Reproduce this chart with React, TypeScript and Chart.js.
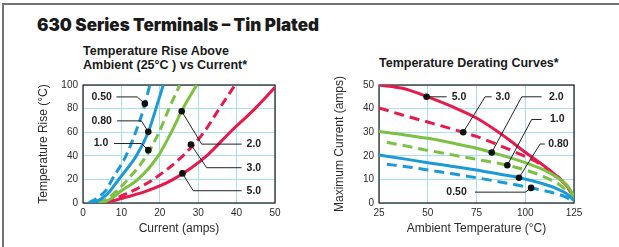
import React, { useEffect, useRef } from 'react';
import { Chart, registerables } from 'chart.js';

Chart.register(...registerables);

const FONT = '"Liberation Sans", Arial, Helvetica, sans-serif';
const BLUE = '#1b9ad8';
const GREEN = '#7cc242';
const RED = '#e8194b';
const GRID = '#a9def4';
const TEXT = '#2b2b2b';

// ---------- Left chart: Temperature rise vs current ----------
const riseXRange = [0, 50];
const riseYRange = [0, 100];
const riseXStep = 10;
const riseYStep = 20;
const rise050: [number, number][] = [[1.5, 0], [4, 5], [5.8, 10], [7.6, 20], [11.2, 40], [13.7, 60], [15.8, 80], [17.4, 100]];
const rise080: [number, number][] = [[2.5, 0], [5, 4], [7, 10], [9.3, 20], [13.9, 40], [17, 60], [19, 80], [20.9, 100]];
const rise100: [number, number][] = [[4, 0], [6.5, 4], [8.7, 10], [11.7, 20], [16.5, 40], [19.8, 60], [22.4, 80], [25.2, 100]];
const rise200: [number, number][] = [[5, 0], [7.5, 4], [9.8, 10], [14.3, 20], [19.6, 40], [23, 60], [26, 80], [29.6, 100]];
const rise300: [number, number][] = [[6, 0], [10, 6], [14, 12], [18.3, 20], [26, 40], [31.5, 60], [35.5, 80], [39.6, 100]];
const rise500: [number, number][] = [[5, 0], [8, 2], [11.3, 5], [16.5, 10], [23.5, 20], [32.2, 40], [38.3, 60], [44.8, 80], [50, 98]];

// callouts: label, path from dot (data coords), text anchor, alignment
const riseCallouts = [
  { label: '0.50', path: [[16.1, 84.2], [14.1, 89.9], [8.7, 89.9]], text: [2.2, 89.9], align: 'left' },
  { label: '0.80', path: [[17, 60.3], [15.2, 69.6], [8.9, 69.6]], text: [2.2, 69.6], align: 'left' },
  { label: '1.0', path: [[17, 44.8], [15.2, 50.4], [8.1, 50.4]], text: [2.8, 50.4], align: 'left' },
  { label: '2.0', path: [[25.7, 77.7], [30.9, 49.9], [41.3, 49.9]], text: [42.6, 49.9], align: 'left' },
  { label: '3.0', path: [[28.1, 49.6], [32.2, 29.9], [41.3, 29.9]], text: [42.6, 29.9], align: 'left' },
  { label: '5.0', path: [[25.9, 25.1], [28.7, 10.4], [41.3, 10.4]], text: [42.6, 10.4], align: 'left' },
];

// ---------- Right chart: Temperature derating ----------
const derateXRange = [25, 125];
const derateYRange = [0, 50];
const derateXStep = 25;
const derateYStep = 10;
const derate500: [number, number][] = [[25, 50], [37, 48.6], [50, 45], [62, 41], [75, 36], [88, 29], [100, 21.5], [110, 15.5], [118, 10], [122, 6.5], [125, 2.5]];
const derate300: [number, number][] = [[25, 40.3], [37, 37.3], [50, 34.3], [62, 31.5], [68, 30], [75, 28.2], [83, 25.7], [95, 21.5], [105, 17.8], [113, 13.5], [120, 8.5], [125, 2.5]];
const derate200: [number, number][] = [[25, 30.3], [37, 29], [50, 27.4], [62, 25.5], [75, 23.2], [83, 21.4], [100, 17.1], [110, 13.8], [117, 10.5], [121, 7.9], [125, 3]];
const derate100: [number, number][] = [[29, 25.7], [40, 24], [50, 22.3], [62, 20.5], [75, 18.5], [90.8, 16], [100, 14], [110, 11], [118, 7.5], [125, 2]];
const derate080: [number, number][] = [[25, 20.3], [37, 18.8], [50, 17.1], [62, 15.6], [75, 14], [87, 12.2], [97, 10.7], [108, 8.4], [115, 6.5], [121, 4], [125, 1]];
const derate050: [number, number][] = [[29, 16.4], [40, 15.3], [50, 14], [62, 12.5], [75, 10.7], [90, 8.5], [103, 6.4], [112, 4.8], [120, 2.8], [125, 0.5]];

const derateCallouts = [
  { label: '5.0', path: [[49.4, 45], [59.7, 45]], text: [62.3, 45], align: 'left' },
  { label: '3.0', path: [[68.2, 30], [79.4, 45], [82.8, 45]], text: [84.8, 45], align: 'left' },
  { label: '2.0', path: [[82.8, 21.4], [98.2, 45], [108.4, 45]], text: [112.2, 45], align: 'left' },
  { label: '1.0', path: [[90.8, 16], [103.3, 35.4], [108.4, 35.4]], text: [112.7, 35.4], align: 'left' },
  { label: '0.80', path: [[96.8, 10.7], [107.6, 25], [110.1, 25]], text: [111.8, 25], align: 'left' },
  { label: '0.50', path: [[103, 6.4], [100, 4.6], [74.2, 4.6]], text: [70, 4.6], align: 'right' },
];

const framePlugin = {
  id: 'frame',
  beforeDatasetsDraw(chart: any) {
    const { ctx, chartArea: a } = chart;
    ctx.save();
    ctx.strokeStyle = '#1a1a1a';
    ctx.lineWidth = 1.2;
    ctx.strokeRect(a.left, a.top, a.right - a.left, a.bottom - a.top);
    ctx.restore();
  },
};

const calloutPlugin = {
  id: 'callouts',
  afterDatasetsDraw(chart: any, _args: any, opts: any) {
    const { ctx } = chart;
    const xs = chart.scales.x;
    const ys = chart.scales.y;
    ctx.save();
    for (const c of opts.items || []) {
      const pts = c.path.map((p: number[]) => [xs.getPixelForValue(p[0]), ys.getPixelForValue(p[1])]);
      ctx.strokeStyle = '#222';
      ctx.lineWidth = 1;
      ctx.beginPath();
      ctx.moveTo(pts[0][0], pts[0][1]);
      for (let i = 1; i < pts.length; i++) ctx.lineTo(pts[i][0], pts[i][1]);
      ctx.stroke();
      ctx.fillStyle = '#111';
      ctx.beginPath();
      ctx.arc(pts[0][0], pts[0][1], 3.3, 0, Math.PI * 2);
      ctx.fill();
      ctx.font = `bold 10.5px ${FONT}`;
      ctx.textAlign = c.align;
      ctx.textBaseline = 'middle';
      ctx.fillStyle = '#222';
      ctx.fillText(c.label, xs.getPixelForValue(c.text[0]), ys.getPixelForValue(c.text[1]));
    }
    ctx.restore();
  },
};

function ds(data: [number, number][], color: string, dashed: boolean, dash: number[]) {
  return {
    data: data.map(([x, y]) => ({ x, y })),
    borderColor: color,
    borderWidth: 3,
    borderDash: dashed ? dash : [],
    pointRadius: 0,
    fill: false,
    cubicInterpolationMode: 'monotone' as const,
  };
}

function makeConfig(o: any) {
  return {
    type: 'line' as const,
    data: { datasets: o.datasets },
    plugins: [framePlugin, calloutPlugin],
    options: {
      responsive: false,
      animation: false as const,
      devicePixelRatio: 1,
      layout: { padding: { top: 15, right: o.padRight, left: 0, bottom: 0 } },
      plugins: {
        legend: { display: false },
        tooltip: { enabled: false },
        callouts: { items: o.callouts },
      },
      scales: {
        x: {
          type: 'linear' as const,
          min: o.xRange[0],
          max: o.xRange[1],
          ticks: { stepSize: o.xStep, color: TEXT, font: { family: FONT, size: 10 }, padding: 4, maxRotation: 0 },
          grid: { color: GRID, lineWidth: 1, drawTicks: false },
          border: { display: false },
          title: { display: true, text: o.xTitle, color: TEXT, font: { family: FONT, size: 12 }, padding: { top: 0, bottom: o.xTitlePad } },
          afterFit: (s: any) => { s.height = 37; },
        },
        y: {
          type: 'linear' as const,
          min: o.yRange[0],
          max: o.yRange[1],
          ticks: { stepSize: o.yStep, color: TEXT, font: { family: FONT, size: 10 }, padding: 5 },
          grid: { color: GRID, lineWidth: 1, drawTicks: false },
          border: { display: false },
          title: { display: true, text: o.yTitle, color: TEXT, font: { family: FONT, size: 12 }, padding: { top: o.yTitlePad, bottom: 0 } },
          afterFit: (s: any) => { s.width = o.yWidth; },
        },
      },
    },
  };
}

export default function App() {
  const leftRef = useRef<HTMLCanvasElement>(null);
  const rightRef = useRef<HTMLCanvasElement>(null);

  useEffect(() => {
    const dashL = [9, 5];
    const dashR = [10, 6];
    const left = new Chart(leftRef.current!, makeConfig({
      datasets: [
        ds(rise050, BLUE, true, dashL),
        ds(rise080, BLUE, false, dashL),
        ds(rise100, GREEN, true, dashL),
        ds(rise200, GREEN, false, dashL),
        ds(rise300, RED, true, dashL),
        ds(rise500, RED, false, dashL),
      ],
      callouts: riseCallouts,
      xRange: riseXRange, yRange: riseYRange, xStep: riseXStep, yStep: riseYStep,
      xTitle: 'Current (amps)', yTitle: 'Temperature Rise (°C)',
      padRight: 25, yWidth: 53, yTitlePad: 6.1, xTitlePad: 4.5,
    }) as any);
    const right = new Chart(rightRef.current!, makeConfig({
      datasets: [
        ds(derate050, BLUE, true, dashR),
        ds(derate080, BLUE, false, dashR),
        ds(derate100, GREEN, true, dashR),
        ds(derate200, GREEN, false, dashR),
        ds(derate300, RED, true, dashR),
        ds(derate500, RED, false, dashR),
      ],
      callouts: derateCallouts,
      xRange: derateXRange, yRange: derateYRange, xStep: derateXStep, yStep: derateYStep,
      xTitle: 'Ambient Temperature (°C)', yTitle: 'Maximum Current (amps)',
      padRight: 21, yWidth: 59, yTitlePad: 12.8, xTitlePad: 4.3,
    }) as any);
    return () => { left.destroy(); right.destroy(); };
  }, []);

  return (
    <div style={{ position: 'fixed', left: 0, top: 0, width: 619, height: 247, overflow: 'hidden', background: '#fff' }}>
      <div style={{ position: 'absolute', left: 2, top: 3, width: 700, height: 300, borderTop: '2px solid #747474', borderLeft: '2px solid #747474' }} />
      <div style={{ position: 'absolute', left: 37, top: 14, fontFamily: 'Inter, "Liberation Sans", Arial, sans-serif', fontWeight: 900, fontSize: 17, lineHeight: '22px', color: '#1a1a1a', whiteSpace: 'nowrap' }}>
        630 Series Terminals – Tin Plated
      </div>
      <div style={{ position: 'absolute', left: 83, top: 43.5, fontFamily: FONT, fontWeight: 700, fontSize: 12.5, lineHeight: '14.3px', color: '#1a1a1a', whiteSpace: 'nowrap' }}>
        Temperature Rise Above<br />Ambient (25°C ) vs Current*
      </div>
      <div style={{ position: 'absolute', left: 379, top: 55.5, fontFamily: FONT, fontWeight: 700, fontSize: 12.5, lineHeight: '14.3px', color: '#1a1a1a', whiteSpace: 'nowrap' }}>
        Temperature Derating Curves*
      </div>
      <canvas ref={leftRef} width={270} height={170} style={{ position: 'absolute', left: 30, top: 70, width: 270, height: 170 }} />
      <canvas ref={rightRef} width={275} height={170} style={{ position: 'absolute', left: 320, top: 70, width: 275, height: 170 }} />
    </div>
  );
}
